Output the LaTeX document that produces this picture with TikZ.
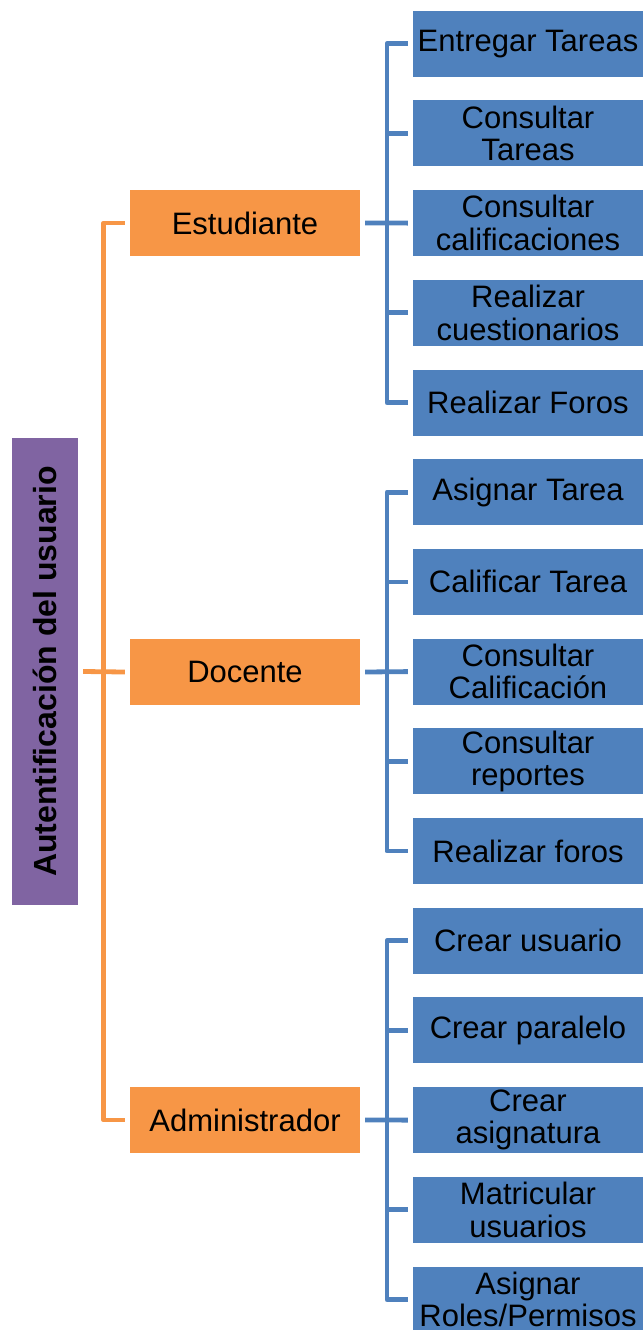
\documentclass[tikz,border=0pt]{standalone}
\usepackage{fontspec}
\setmainfont{Liberation Sans}
\usepackage{xcolor}
\usepackage{tikz}
\usetikzlibrary{positioning}

\definecolor{rootpurple}{HTML}{8064A2}
\definecolor{roleorange}{HTML}{F79646}
\definecolor{leafblue}{HTML}{4F81BD}

\begin{document}
\begin{tikzpicture}[x=1pt, y=-1pt,
    rootbox/.style={fill=rootpurple, rotate=90, minimum width=467pt, minimum height=66pt, inner sep=0pt, font=\fontsize{32}{34}\selectfont\bfseries},
    rolebox/.style={fill=roleorange, minimum width=230pt, minimum height=66pt, inner sep=0pt, font=\fontsize{31}{33}\selectfont},
    leafbox/.style={fill=leafblue, minimum width=230pt, minimum height=66pt, inner sep=0pt, align=center, font=\fontsize{31}{32.5}\selectfont},
    orangeline/.style={draw=roleorange, line width=4.8pt, line join=round},
    blueline/.style={draw=leafblue, line width=4.8pt, line join=round}]
            \useasboundingbox (0,0) rectangle (644,1330);

            % Root and the three roles
            \node[rootbox] (root) at (45,671.5) {Autentificación del usuario};
            \node[rolebox] (est) at (245,223) {Estudiante};
            \node[rolebox] (doc) at (245,672) {Docente};
            \node[rolebox] (adm) at (245,1120) {Administrador};

            % Estudiante
            \node[leafbox] (e1) at (528,43.7) {Entregar Tareas};
            \node[leafbox] (e2) at (528,133.4) {Consultar\\Tareas};
            \node[leafbox] (e3) at (528,223.1) {Consultar\\calificaciones};
            \node[leafbox] (e4) at (528,312.8) {Realizar\\cuestionarios};
            \node[leafbox] (e5) at (528,402.5) {Realizar Foros};

            % Docente
            \node[leafbox] (d1) at (528,492.2) {Asignar Tarea};
            \node[leafbox] (d2) at (528,581.9) {Calificar Tarea};
            \node[leafbox] (d3) at (528,671.6) {Consultar\\Calificación};
            \node[leafbox] (d4) at (528,761.3) {Consultar\\reportes};
            \node[leafbox] (d5) at (528,851) {Realizar foros};

            % Administrador
            \node[leafbox] (a1) at (528,940.7) {Crear usuario};
            \node[leafbox] (a2) at (528,1030.4) {Crear paralelo};
            \node[leafbox] (a3) at (528,1120.1) {Crear\\asignatura};
            \node[leafbox] (a4) at (528,1209.8) {Matricular\\usuarios};
            \node[leafbox] (a5) at (528,1299.5) {Asignar\\Roles/Permisos};

            % Orange bracket from the root
            \draw[orangeline] ([xshift=-5]est.west) -| ([xshift=-26]doc.west) |- ([xshift=-5]adm.west);
            \draw[orangeline] ([xshift=5]root.south) -- ([xshift=-5]doc.west);

            % Blue brackets from each role
            \foreach \r/\g in {est/e, doc/d, adm/a} {
                \draw[blueline] ([xshift=-5]\g1.west) -| ([xshift=26.7]\r.east) |- ([xshift=-5]\g5.west);
                \draw[blueline] ([xshift=5]\r.east) -- ([xshift=-5]\g3.west);
                \draw[blueline] ([xshift=26.7]\r.east |- \g2.west) -- ([xshift=-5]\g2.west);
                \draw[blueline] ([xshift=26.7]\r.east |- \g4.west) -- ([xshift=-5]\g4.west);
            }
        \end{tikzpicture}
\end{document}
